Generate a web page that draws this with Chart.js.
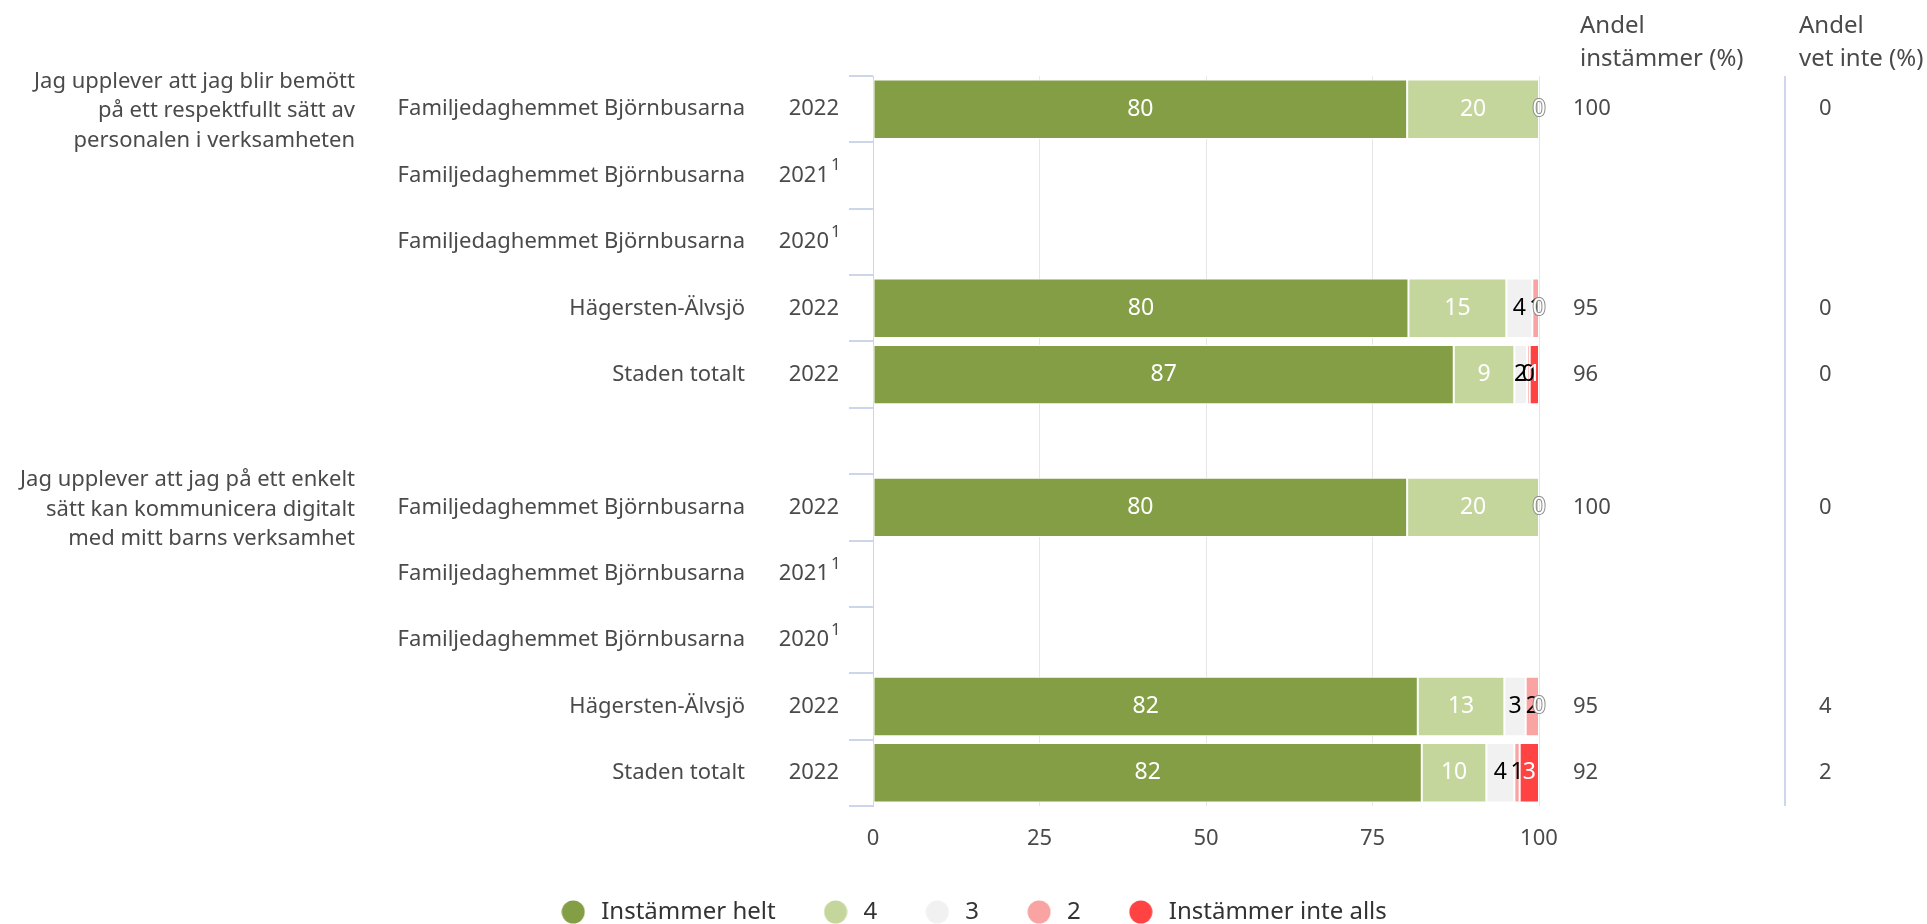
<!DOCTYPE html>
<html lang="sv">
<head>
    <meta charset="UTF-8">
    <title>Andel instämmer</title>
    <script src="https://cdn.jsdelivr.net/npm/chart.js"></script>
    <style>
        body {
            margin: 0;
            padding: 0;
            background: #fff;
            overflow: hidden;
        }

        #chart {
            display: block;
        }
    </style>
</head>
<body>
    <canvas id="chart" width="1927" height="940"></canvas>

    <script>
        // categories (empty entry = spacer row between the two questions)
        const units = ['Familjedaghemmet Björnbusarna', 'Familjedaghemmet Björnbusarna', 'Familjedaghemmet Björnbusarna', 'Hägersten-Älvsjö', 'Staden totalt', '',
            'Familjedaghemmet Björnbusarna', 'Familjedaghemmet Björnbusarna', 'Familjedaghemmet Björnbusarna', 'Hägersten-Älvsjö', 'Staden totalt'];
        const years = ['2022', '2021', '2020', '2022', '2022', '', '2022', '2021', '2020', '2022', '2022'];
        const footnotes = ['', '1', '1', '', '', '', '', '1', '1', '', ''];

        const questions = [
            ['Jag upplever att jag blir bemött', 'på ett respektfullt sätt av', 'personalen i verksamheten'],
            ['Jag upplever att jag på ett enkelt', 'sätt kan kommunicera digitalt', 'med mitt barns verksamhet']
        ];
        const questionRows = [0, 6];

        // series (percent)
        const instammerHelt = [80.2, null, null, 80.4, 87.2, null, 80.2, null, null, 81.8, 82.4];
        const svar4 = [19.8, null, null, 14.7, 9.1, null, 19.8, null, null, 13.0, 9.7];
        const svar3 = [0, null, null, 3.9, 1.9, null, 0, null, null, 3.2, 4.2];
        const svar2 = [0, null, null, 1.0, 0.4, null, 0, null, null, 2.0, 0.8];
        const instammerInteAlls = [0, null, null, 0, 1.4, null, 0, null, null, 0, 2.9];

        // right hand columns
        const andelInstammer = [100, null, null, 95, 96, null, 100, null, null, 95, 92];
        const andelVetInte = [0, null, null, 0, 0, null, 0, null, null, 4, 2];

        const xTicks = [0, 25, 50, 75, 100];

        const colors = ['#839e45', '#c5d69d', '#f1f1f1', '#f9a3a3', '#ff4343'];
        const labelColors = ['#ffffff', '#ffffff', '#000000', '#000000', '#ffffff'];
        const textColor = '#4a4a4a';
        const fontFamily = '"Noto Sans", sans-serif';

        Chart.defaults.font.family = fontFamily;

        function dot(color) {
            const c = document.createElement('canvas');
            c.width = 24;
            c.height = 24;
            const g = c.getContext('2d');
            g.fillStyle = color;
            g.beginPath();
            g.arc(12, 12, 11.5, 0, Math.PI * 2);
            g.fill();
            return c;
        }
        const dots = colors.map(dot);

        // values inside the bars
        const barLabels = {
            id: 'barLabels',
            afterDatasetsDraw(chart) {
                const ctx = chart.ctx;
                ctx.save();
                ctx.font = '23px ' + fontFamily;
                ctx.textAlign = 'center';
                ctx.textBaseline = 'middle';
                chart.data.datasets.forEach((ds, di) => {
                    const meta = chart.getDatasetMeta(di);
                    meta.data.forEach((bar, i) => {
                        const v = ds.data[i];
                        if (v === null || v === undefined) return;
                        const p = bar.getProps(['x', 'y', 'base'], true);
                        const cx = (p.x + p.base) / 2;
                        const txt = String(Math.round(v));
                        if (labelColors[di] === '#ffffff' && Math.round(v) === 0) {
                            ctx.lineWidth = 2;
                            ctx.strokeStyle = '#8a8a8a';
                            ctx.strokeText(txt, cx, p.y);
                        }
                        ctx.fillStyle = labelColors[di];
                        ctx.fillText(txt, cx, p.y);
                    });
                });
                ctx.restore();
            }
        };

        // category labels, question texts and the two right columns
        const sideTexts = {
            id: 'sideTexts',
            afterDraw(chart) {
                const ctx = chart.ctx;
                const area = chart.chartArea;
                const yScale = chart.scales.y;
                ctx.save();
                ctx.fillStyle = textColor;
                ctx.textBaseline = 'middle';

                units.forEach((u, i) => {
                    if (!u) return;
                    const yc = yScale.getPixelForValue(i);
                    ctx.font = '22px ' + fontFamily;
                    ctx.textAlign = 'right';
                    ctx.fillText(u, area.left - 128, yc);
                    if (footnotes[i]) {
                        ctx.fillText(years[i], area.left - 44, yc);
                        ctx.font = '17px ' + fontFamily;
                        ctx.textAlign = 'left';
                        ctx.fillText(footnotes[i], area.left - 42, yc - 10);
                    } else {
                        ctx.fillText(years[i], area.left - 34, yc);
                    }

                    ctx.font = '22px ' + fontFamily;
                    ctx.textAlign = 'left';
                    if (andelInstammer[i] !== null) ctx.fillText(String(andelInstammer[i]), area.right + 34, yc);
                    if (andelVetInte[i] !== null) ctx.fillText(String(andelVetInte[i]), area.right + 280, yc);
                });

                ctx.font = '22px ' + fontFamily;
                ctx.textAlign = 'right';
                questions.forEach((lines, q) => {
                    const yc = yScale.getPixelForValue(questionRows[q]) + 2;
                    lines.forEach((line, k) => {
                        ctx.fillText(line, 355, yc + (k - 1) * 29.5);
                    });
                });

                // column headers
                ctx.font = '24px ' + fontFamily;
                ctx.textAlign = 'left';
                ctx.fillText('Andel', area.right + 41, 26);
                ctx.fillText('instämmer (%)', area.right + 41, 59);
                ctx.fillText('Andel', area.right + 260, 26);
                ctx.fillText('vet inte (%)', area.right + 260, 59);

                // separator between the columns
                ctx.strokeStyle = '#cdd8ee';
                ctx.lineWidth = 2;
                ctx.beginPath();
                ctx.moveTo(area.right + 246, area.top);
                ctx.lineTo(area.right + 246, area.bottom);
                ctx.stroke();
                ctx.restore();
            }
        };

        const seriesNames = ['Instämmer helt', '4', '3', '2', 'Instämmer inte alls'];
        const seriesData = [instammerHelt, svar4, svar3, svar2, instammerInteAlls];

        const chart = new Chart(document.getElementById('chart').getContext('2d'), {
            type: 'bar',
            data: {
                labels: units.map((u, i) => u ? u + ' ' + years[i] : ''),
                datasets: seriesNames.map((name, i) => ({
                    label: name,
                    data: seriesData[i],
                    backgroundColor: colors[i],
                    borderColor: '#ffffff',
                    borderWidth: 1,
                    borderSkipped: false,
                    barPercentage: 0.895,
                    categoryPercentage: 1
                }))
            },
            options: {
                indexAxis: 'y',
                responsive: false,
                animation: false,
                layout: {
                    padding: { top: 76, bottom: 6, left: 17, right: 0 }
                },
                scales: {
                    x: {
                        stacked: true,
                        min: 0,
                        max: 100,
                        afterBuildTicks: s => { s.ticks = xTicks.map(v => ({ value: v })); },
                        grid: { color: '#e6e6e6', lineWidth: 1, drawTicks: false },
                        border: { display: false },
                        ticks: { padding: 20, color: textColor, font: { size: 22 } },
                        afterFit: s => { s.height = 50; }
                    },
                    y: {
                        stacked: true,
                        grid: { drawOnChartArea: false, drawTicks: true, tickLength: 24, color: '#ccd6eb', lineWidth: 2 },
                        border: { display: true, color: '#ccd6eb', width: 1 },
                        ticks: { display: false },
                        afterFit: s => { s.width = 856; }
                    },
                    yRight: {
                        type: 'category',
                        position: 'right',
                        grid: { display: false },
                        border: { display: false },
                        ticks: { display: false },
                        afterFit: s => { s.width = 388; }
                    }
                },
                plugins: {
                    tooltip: { enabled: false },
                    legend: {
                        position: 'bottom',
                        align: 'center',
                        labels: {
                            usePointStyle: true,
                            pointStyleWidth: 32,
                            padding: 44,
                            color: '#333333',
                            font: { size: 24 },
                            generateLabels: c => c.data.datasets.map((ds, i) => ({
                                text: ds.label,
                                fillStyle: colors[i],
                                strokeStyle: colors[i],
                                lineWidth: 0,
                                pointStyle: dots[i],
                                fontColor: '#333333',
                                hidden: !c.isDatasetVisible(i),
                                datasetIndex: i
                            }))
                        }
                    }
                }
            },
            plugins: [barLabels, sideTexts]
        });
    </script>
</body>
</html>
